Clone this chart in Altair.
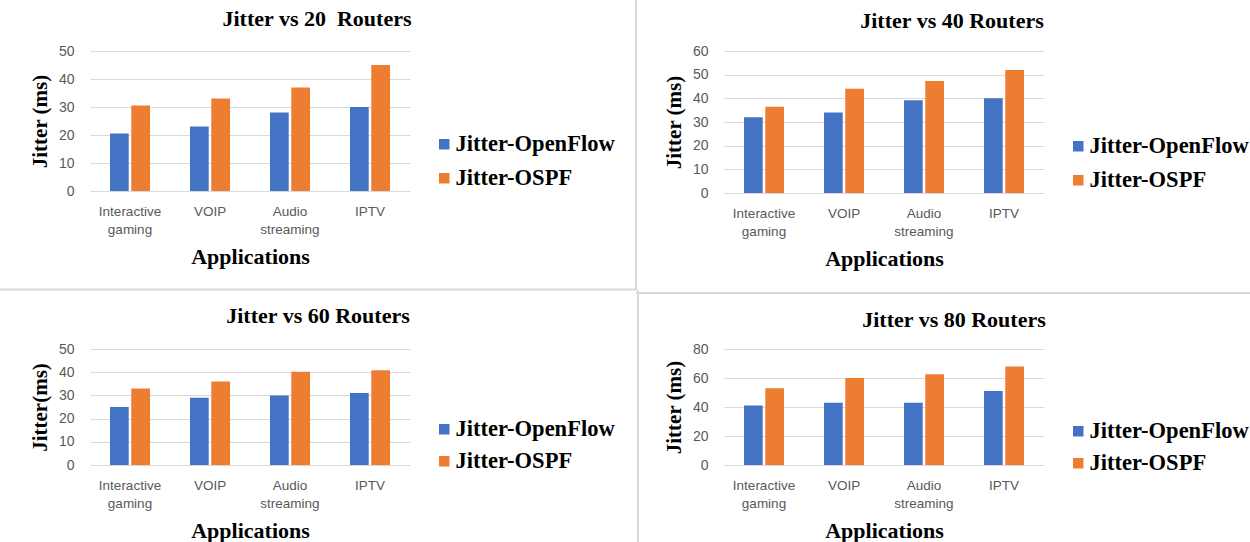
import altair as alt
import pandas as pd

# Applications on the x axis and the two routing schemes compared
apps = ["Interactive gaming", "VOIP", "Audio streaming", "IPTV"]
series = ["Jitter-OpenFlow", "Jitter-OSPF"]

# Jitter (ms) per application, one pair of lists per network size
openflow_20 = [20.5, 23, 28, 30]
ospf_20 = [30.5, 33, 37, 45]
openflow_40 = [32, 34, 39.2, 40]
ospf_40 = [36.4, 44, 47.3, 52]
openflow_60 = [25, 29, 30, 31]
ospf_60 = [33, 36, 40.2, 40.8]
openflow_80 = [41, 43, 43, 51]
ospf_80 = [53, 60, 62.6, 68]

BLUE = "#4472C4"
ORANGE = "#ED7D31"
SERIF = "Liberation Serif"
SANS = "Liberation Sans"
FRAME = "#d9d9d9"


def one_row():
    return pd.DataFrame({"k": [0]})


def frame_rule(**enc):
    """Light grey border line drawn around a chart tile."""
    return alt.Chart(one_row()).mark_rule(color=FRAME, strokeWidth=2).encode(**enc)


def heading(text, x, y):
    """Bold chart heading, centred over the whole tile rather than the plot."""
    return alt.Chart(one_row()).mark_text(
        text=text, font=SERIF, fontSize=22, fontWeight="bold", color="black",
        align="center", baseline="alphabetic",
    ).encode(x=alt.value(x), y=alt.value(y))


def panel(of, ospf, title, title_pos, y_title, y_max, y_step, height,
          legend_y, row_gap, borders):
    df = pd.DataFrame({
        "app": apps * 2,
        "series": [series[0]] * len(apps) + [series[1]] * len(apps),
        "jitter": of + ospf,
    })
    bars = alt.Chart(df).mark_bar().encode(
        x=alt.X(
            "app:N", sort=apps,
            scale=alt.Scale(paddingInner=0.5, paddingOuter=0.25),
            axis=alt.Axis(
                title="Applications", labelAngle=0, grid=False,
                labelExpr="split(datum.label, ' ')", labelLineHeight=18,
                labelFontSize=13.5, labelPadding=13, titlePadding=11,
                titleFontSize=22,
            ),
        ),
        xOffset=alt.XOffset(
            "series:N", sort=series,
            scale=alt.Scale(paddingInner=0.12, paddingOuter=0),
        ),
        y=alt.Y(
            "jitter:Q",
            scale=alt.Scale(domain=[0, y_max], nice=False),
            axis=alt.Axis(
                title=y_title, values=list(range(0, y_max + 1, y_step)),
                grid=True, labelFontSize=14, labelPadding=16, titlePadding=8,
                titleFontSize=21,
            ),
        ),
        color=alt.Color(
            "series:N", sort=series,
            scale=alt.Scale(domain=series, range=[BLUE, ORANGE]),
            legend=alt.Legend(
                orient="none", legendX=343, legendY=legend_y, title=None,
                symbolType="square", symbolSize=110, symbolStrokeWidth=0,
                labelFont=SERIF, labelFontSize=22.5, labelFontWeight="bold",
                labelColor="black", rowPadding=row_gap, labelOffset=0,
                padding=0, labelLimit=0,
            ),
        ),
    )
    layers = [bars, heading(title, *title_pos)] + [frame_rule(**b) for b in borders]
    return alt.layer(*layers).properties(width=320, height=height)


p20 = panel(
    openflow_20, ospf_20, "Jitter vs 20\u00a0 Routers", (227, -25),
    "Jitter (ms)", 50, 10, 140, 82, 11,
    [dict(x=alt.value(546), y=alt.value(-51), y2=alt.value(239)),
     dict(y=alt.value(238.5), x=alt.value(-90), x2=alt.value(547))],
)
p40 = panel(
    openflow_40, ospf_40, "Jitter vs 40 Routers", (228, -23),
    "Jitter (ms)", 60, 10, 142, 84, 11,
    [],
)
p60 = panel(
    openflow_60, ospf_60, "Jitter vs 60 Routers", (228, -26),
    "Jitter(ms)", 50, 10, 116, 69, 9,
    [dict(x=alt.value(548), y=alt.value(-59), y2=alt.value(193))],
)
p80 = panel(
    openflow_80, ospf_80, "Jitter vs 80 Routers", (230, -22),
    "Jitter (ms)", 80, 20, 116, 71, 9,
    [dict(y=alt.value(-56), x=alt.value(-88), x2=alt.value(530))],
)

chart = (
    alt.concat(p20, p40, p60, p80, columns=2,
               spacing={"row": 156, "column": 314}, bounds="flush")
    .resolve_legend(color="independent")
    .properties(
        autosize=alt.AutoSizeParams(type="none"),
        padding={"left": 90, "top": 51, "right": 1160, "bottom": 491},
        background="white",
    )
    .configure_view(stroke=None)
    .configure_axis(
        domain=False, ticks=False, tickSize=0,
        gridColor="#d9d9d9", gridWidth=1,
        labelFont=SANS, labelColor="#595959",
        titleFont=SERIF, titleFontWeight="bold", titleColor="black",
    )
)

chart.save("out.html", embed_options={"renderer": "svg", "actions": False})
